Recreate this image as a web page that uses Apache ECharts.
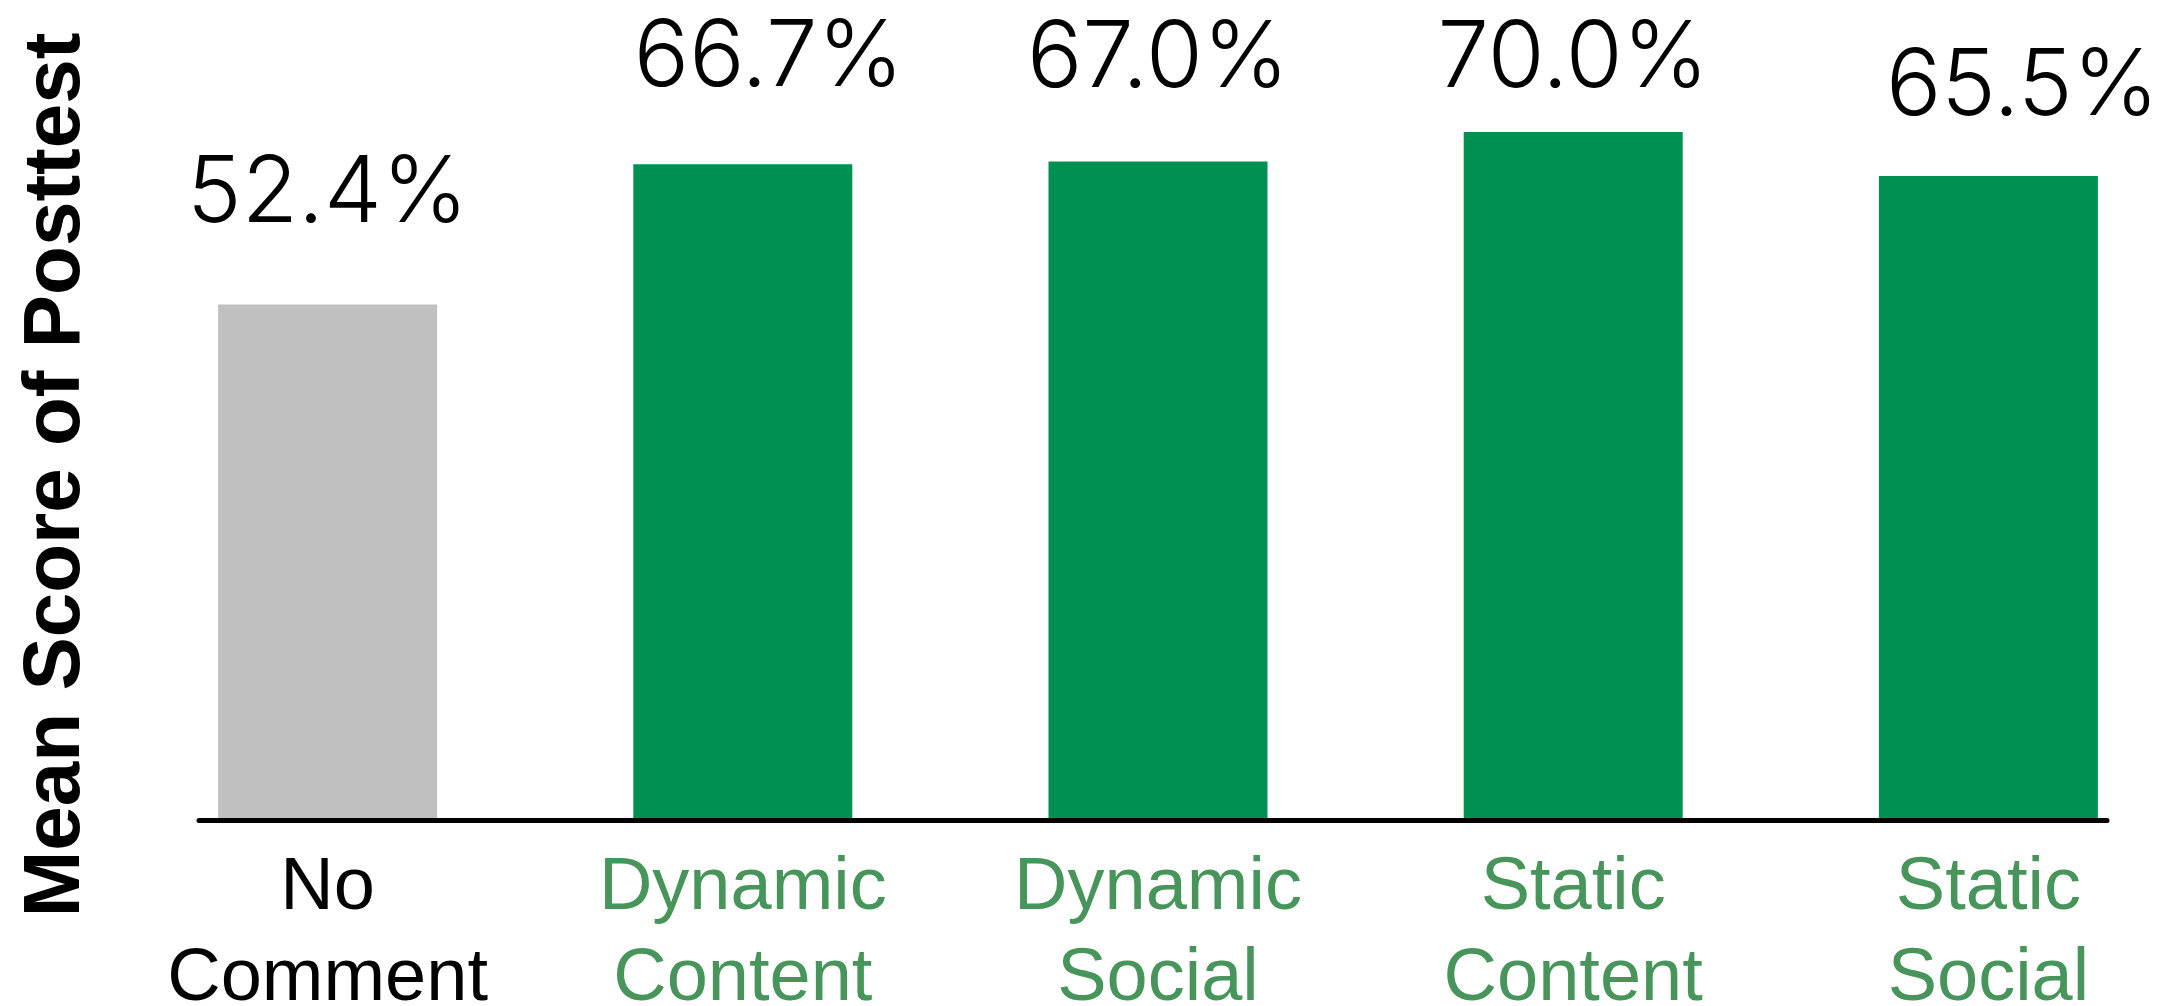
<!DOCTYPE html>
<html>
<head>
<meta charset="utf-8">
<script src="https://cdn.jsdelivr.net/npm/echarts@6/dist/echarts.min.js"></script>
<style>
  html, body { margin: 0; padding: 0; background: #ffffff; }
  #chart { width: 2179px; height: 1006px; }
</style>
</head>
<body>
<div id="chart"></div>
<script>
// Posttest results per feedback condition
const categories = ['No\nComment', 'Dynamic\nContent', 'Dynamic\nSocial', 'Static\nContent', 'Static\nSocial'];
const meanScores = [52.4, 66.7, 67.0, 70.0, 65.5];
const scoreLabels = ['52.4%', '66.7%', '67.0%', '70.0%', '65.5%'];
const yAxisTitle = 'Mean Score of Posttest';

// Styling per condition
const barColors = ['#c0c0c0', '#009152', '#009152', '#009152', '#009152'];
const categoryColors = ['#000000', '#47955a', '#47955a', '#47955a', '#47955a'];
// Hand placement of each value label relative to its bar top
const labelOffsets = [[0, -110], [26, -106], [0, -102], [0, -73], [34, -89]];

const chart = echarts.init(document.getElementById('chart'), null, { renderer: 'canvas' });

const option = {
  backgroundColor: '#ffffff',
  animation: false,
  grid: [
    { left: 120, width: 2076, top: 34, bottom: 188, outerBoundsMode: 'none', containLabel: false },
    { left: 199, right: 72, top: 34, bottom: 185.5, outerBoundsMode: 'none', containLabel: false }
  ],
  xAxis: [
    {
      type: 'category',
      gridIndex: 0,
      data: categories.map((c, i) => ({
        value: c,
        textStyle: { color: categoryColors[i] }
      })),
      axisLine: { show: false },
      axisTick: { show: false },
      axisLabel: {
        interval: 0,
        margin: 25,
        fontFamily: '"Liberation Sans", Arial, sans-serif',
        fontSize: 74,
        lineHeight: 91
      }
    },
    {
      type: 'category',
      gridIndex: 1,
      data: categories,
      axisLine: { show: true, onZero: false, lineStyle: { color: '#000000', width: 5 } },
      axisTick: { show: false },
      axisLabel: { show: false }
    }
  ],
  yAxis: [
    {
      type: 'value',
      gridIndex: 0,
      min: 0,
      max: 80,
      axisLine: { show: false },
      axisTick: { show: false },
      axisLabel: { show: false },
      splitLine: { show: false }
    },
    {
      type: 'value',
      gridIndex: 1,
      show: false
    }
  ],
  graphic: [
    {
      type: 'text',
      x: 57,
      y: 475,
      rotation: Math.PI / 2,
      style: {
        text: yAxisTitle,
        fontFamily: '"Liberation Sans", Arial, sans-serif',
        fontWeight: 'bold',
        fontSize: 80,
        fill: '#000000',
        align: 'center',
        verticalAlign: 'middle'
      }
    }
  ],
  series: [
    {
      type: 'bar',
      xAxisIndex: 0,
      yAxisIndex: 0,
      barWidth: 219,
      data: meanScores.map((v, i) => ({
        value: v,
        itemStyle: { color: barColors[i] },
        label: { offset: labelOffsets[i] }
      })),
      label: {
        show: true,
        position: 'top',
        distance: 0,
        verticalAlign: 'middle',
        formatter: (p) => scoreLabels[p.dataIndex],
        fontFamily: 'Inter, Roboto, "Liberation Sans", sans-serif',
        fontWeight: 300,
        fontSize: 92,
        color: '#000000'
      }
    }
  ]
};

chart.setOption(option);
</script>
</body>
</html>
